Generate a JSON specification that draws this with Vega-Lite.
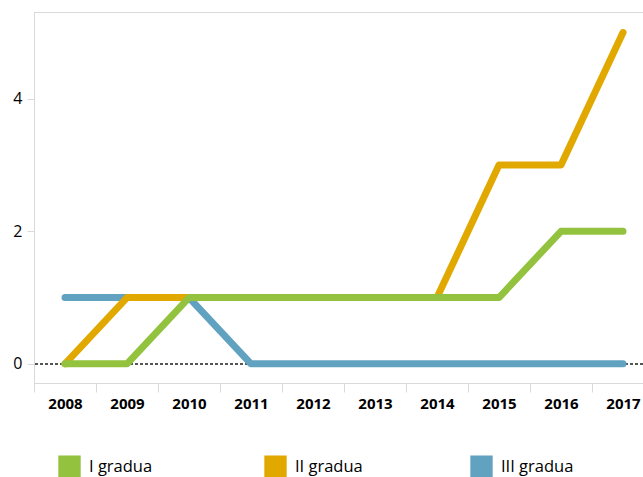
{
  "$schema": "https://vega.github.io/schema/vega-lite/v6.json",
  "autosize": {"type": "none"},
  "padding": {"left": 34, "top": 12, "right": 0, "bottom": 94},
  "width": 609,
  "height": 371,
  "config": {
    "font": "Open Sans",
    "view": {"stroke": "#d9d9d9", "strokeWidth": 1},
    "axis": {"domainColor": "#d9d9d9", "tickColor": "#d9d9d9", "grid": false, "title": null, "labelColor": "#000000"}
  },
  "data": {"values": [
    {"year": "2008", "series": "III gradua", "value": 1},
    {"year": "2009", "series": "III gradua", "value": 1},
    {"year": "2010", "series": "III gradua", "value": 1},
    {"year": "2011", "series": "III gradua", "value": 0},
    {"year": "2012", "series": "III gradua", "value": 0},
    {"year": "2013", "series": "III gradua", "value": 0},
    {"year": "2014", "series": "III gradua", "value": 0},
    {"year": "2015", "series": "III gradua", "value": 0},
    {"year": "2016", "series": "III gradua", "value": 0},
    {"year": "2017", "series": "III gradua", "value": 0},
    {"year": "2008", "series": "II gradua", "value": 0},
    {"year": "2009", "series": "II gradua", "value": 1},
    {"year": "2010", "series": "II gradua", "value": 1},
    {"year": "2011", "series": "II gradua", "value": 1},
    {"year": "2012", "series": "II gradua", "value": 1},
    {"year": "2013", "series": "II gradua", "value": 1},
    {"year": "2014", "series": "II gradua", "value": 1},
    {"year": "2015", "series": "II gradua", "value": 3},
    {"year": "2016", "series": "II gradua", "value": 3},
    {"year": "2017", "series": "II gradua", "value": 5},
    {"year": "2008", "series": "I gradua", "value": 0},
    {"year": "2009", "series": "I gradua", "value": 0},
    {"year": "2010", "series": "I gradua", "value": 1},
    {"year": "2011", "series": "I gradua", "value": 1},
    {"year": "2012", "series": "I gradua", "value": 1},
    {"year": "2013", "series": "I gradua", "value": 1},
    {"year": "2014", "series": "I gradua", "value": 1},
    {"year": "2015", "series": "I gradua", "value": 1},
    {"year": "2016", "series": "I gradua", "value": 2},
    {"year": "2017", "series": "I gradua", "value": 2}
  ]},
  "layer": [
    {
      "mark": {"type": "rule", "strokeDash": [3, 2], "color": "#555555", "strokeWidth": 1},
      "encoding": {"y": {"datum": 0, "type": "quantitative"}}
    },
    {
      "mark": {"type": "line", "strokeWidth": 7, "strokeCap": "round", "strokeJoin": "round"},
      "encoding": {
        "x": {
          "field": "year", "type": "ordinal", "bandPosition": 0.5,
          "scale": {"type": "band", "range": [0, 620], "paddingInner": 0, "paddingOuter": 0},
          "axis": {"tickBand": "extent", "tickSize": 9, "labelFontSize": 15, "labelFontWeight": "bold", "labelPadding": 4, "labelAngle": 0}
        },
        "y": {
          "field": "value", "type": "quantitative",
          "scale": {"domain": [-0.29, 5.31], "nice": false, "zero": false},
          "axis": {"values": [0, 2, 4], "format": "d", "tickSize": 7, "labelFontSize": 16, "labelPadding": 5}
        },
        "color": {
          "field": "series", "type": "nominal",
          "scale": {"domain": ["I gradua", "II gradua", "III gradua"], "range": ["#92c23e", "#e1a900", "#61a2c0"]},
          "legend": {
            "title": null, "orient": "none", "legendX": 24, "legendY": 443,
            "direction": "horizontal", "columns": 3, "gridAlign": "all", "columnPadding": 102,
            "symbolType": "square", "symbolSize": 500, "labelFontSize": 16.5, "labelOffset": 8, "labelColor": "#000000",
            "encode": {"symbols": {"update": {"fill": {"scale": "color", "field": "value"}, "stroke": {"value": "transparent"}, "shape": {"value": "square"}, "strokeWidth": {"value": 0}}}}
          }
        }
      }
    }
  ]
}
